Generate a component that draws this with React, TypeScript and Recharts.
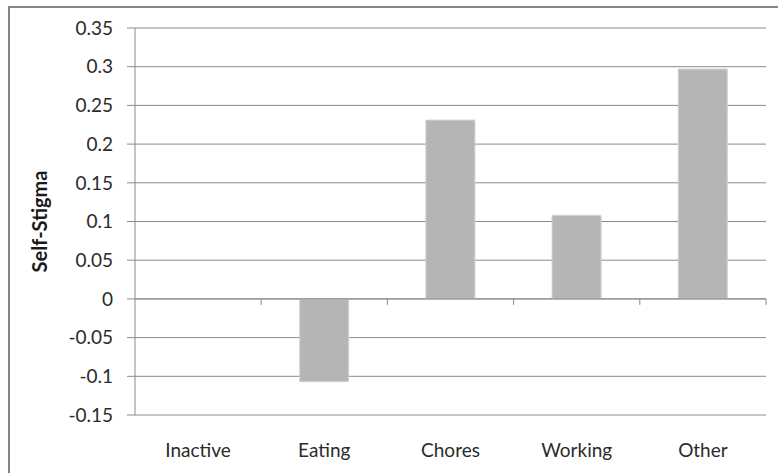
import React from "react"
import { BarChart, Bar, XAxis, YAxis, CartesianGrid, ReferenceLine, Label } from "recharts"

const categories = ["Inactive", "Eating", "Chores", "Working", "Other"]
const selfStigma = [0, -0.107, 0.231, 0.108, 0.297]
const yTicks = [-0.15, -0.1, -0.05, 0, 0.05, 0.1, 0.15, 0.2, 0.25, 0.3, 0.35]

const data = categories.map((name, i) => ({ name, value: selfStigma[i] }))

const W = 778
const H = 473
const margin = { top: 28, right: 12, bottom: 0, left: 0 }
const yAxisWidth = 135
const xAxisHeight = 58
const plotW = W - margin.left - margin.right - yAxisWidth
const plotH = H - margin.top - margin.bottom - xAxisHeight
const yMin = yTicks[0]
const yMax = yTicks[yTicks.length - 1]
const zeroY = margin.top + (plotH * yMax) / (yMax - yMin)
const band = plotW / categories.length

const font = "Lato, 'Open Sans', sans-serif"
const gridColor = "#8a8a8a"
const textColor = "#2b2b2b"

function CategoryTick(props: any) {
  const { x, y, payload } = props
  return (
    <g>
      <line x1={x + band / 2} x2={x + band / 2} y1={zeroY} y2={zeroY + 6} stroke={gridColor} />
      <text x={x} y={y} dy="0.71em" textAnchor="middle" fill={textColor} fontSize={19} fontFamily={font}>
        {payload.value}
      </text>
    </g>
  )
}

export default function App() {
  return (
    <div style={{ position: "fixed", left: 0, top: 0, width: W, height: H, overflow: "hidden", background: "#fff" }}>
      <div
        style={{
          position: "absolute",
          left: 8,
          top: 6,
          width: 820,
          height: 520,
          border: "2px solid #858585",
          boxSizing: "border-box",
        }}
      />
      <div style={{ position: "absolute", left: 0, top: 0 }}>
        <BarChart width={W} height={H} data={data} margin={margin} barCategoryGap="30.5%">
          <CartesianGrid vertical={false} stroke={gridColor} strokeDasharray="" />
          <XAxis
            dataKey="name"
            height={xAxisHeight}
            axisLine={false}
            tickLine={false}
            tickSize={0}
            tickMargin={29}
            tick={<CategoryTick />}
            interval={0}
          />
          <YAxis
            width={yAxisWidth}
            domain={[yMin, yMax]}
            ticks={yTicks}
            interval={0}
            axisLine={{ stroke: gridColor }}
            tickLine={{ stroke: gridColor }}
            tickSize={8}
            tickMargin={14}
            tick={{ fill: textColor, fontSize: 19, fontFamily: font }}
          >
            <Label
              value="Self-Stigma"
              angle={-90}
              position="insideLeft"
              offset={40}
              style={{ textAnchor: "middle", fontWeight: "bold", fontSize: 20, fontFamily: font, fill: "#1a1a1a" }}
            />
          </YAxis>
          <ReferenceLine y={0} stroke={gridColor} />
          <Bar dataKey="value" fill="#b5b5b5" stroke="#d2d2d2" strokeWidth={1} isAnimationActive={false} />
        </BarChart>
      </div>
    </div>
  )
}
